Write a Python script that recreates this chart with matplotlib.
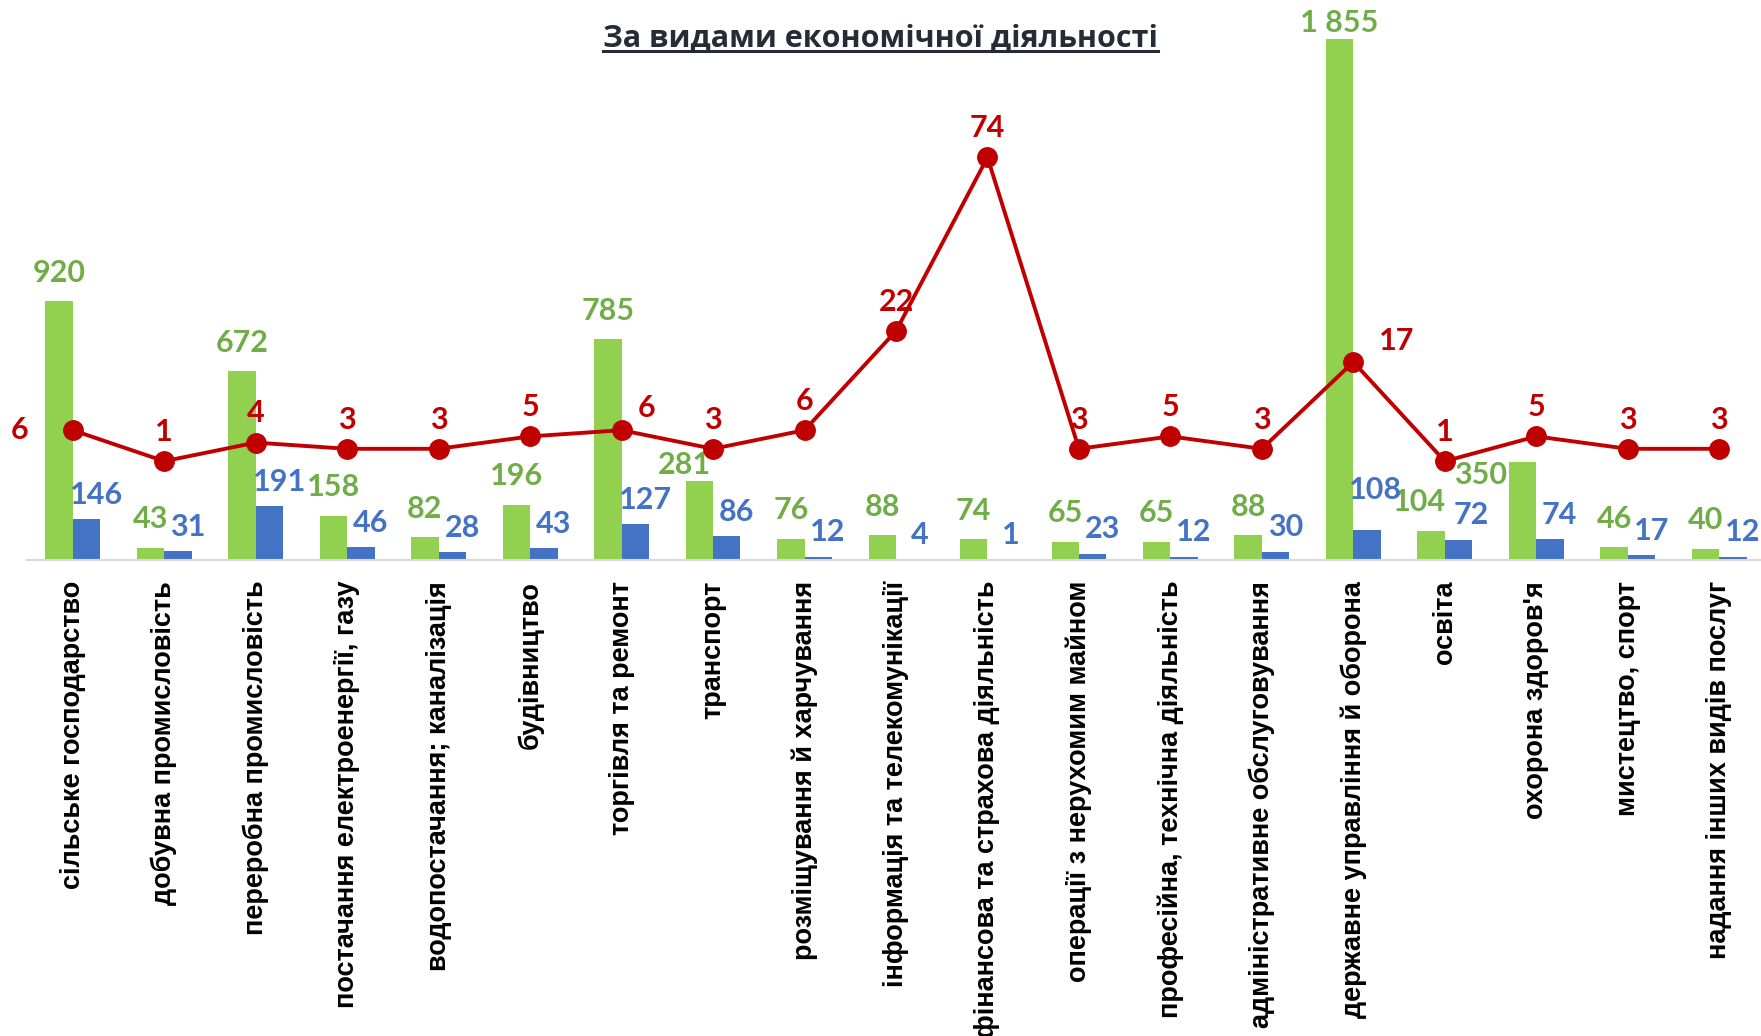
"""
Bar + line chart by kind of economic activity (green/blue bars, red line on a twin axis).
"""

import numpy as np
import matplotlib
matplotlib.use("Agg")
import matplotlib.pyplot as plt
from matplotlib.lines import Line2D


TITLE = "За видами економічної діяльності"

categories = [
    "сільське господарство",
    "добувна промисловість",
    "переробна промисловість",
    "постачання електроенергії, газу",
    "водопостачання; каналізація",
    "будівництво",
    "торгівля та ремонт",
    "транспорт",
    "розміщування й харчування",
    "інформація та телекомунікації",
    "фінансова та страхова діяльність",
    "операції з нерухомим майном",
    "професійна, технічна діяльність",
    "адміністративне обслуговування",
    "державне управління й оборона",
    "освіта",
    "охорона здоров'я",
    "мистецтво, спорт",
    "надання інших видів послуг",
]
green_vals = [920, 43, 672, 158, 82, 196, 785, 281, 76, 88, 74, 65, 65, 88, 1855, 104, 350, 46, 40]
blue_vals = [146, 31, 191, 46, 28, 43, 127, 86, 12, 4, 1, 23, 12, 30, 108, 72, 74, 17, 12]
line_labels = [6, 1, 4, 3, 3, 5, 6, 3, 6, 22, 74, 3, 5, 3, 17, 1, 5, 3, 3]
# the "74" point sits lower in the original than its label says (~50 on the axis)
line_vals = [6, 1, 4, 3, 3, 5, 6, 3, 6, 22, 50, 3, 5, 3, 17, 1, 5, 3, 3]

GREEN = "#92D050"
GREEN_TXT = "#70AD47"
BLUE = "#4472C4"
RED = "#C00000"
NUM_FONT = ["Lato", "DejaVu Sans"]
NUM_SIZE = 22

# label offsets (points) that differ from the default placement
RED_OFFSETS = {0: (-38, 0), 6: (18, 16), 14: (31, 15)}
GREEN_OFFSETS = {7: (-11, 5), 14: (0, 5), 15: (-8, 14), 16: (-30, -16)}
BLUE_OFFSETS = {14: (6, 22), 15: (9, 11)}


def fmt(v):
    return f"{v:,}".replace(",", " ")


W, H = 1761, 1036
fig = plt.figure(figsize=(W / 100, H / 100), dpi=100)
base_y, top_y = 560, 30
ax = fig.add_axes([27 / W, (H - base_y) / H, 1738 / W, (base_y - top_y) / H])
x = np.arange(len(categories))

ax.bar(x - 0.15, green_vals, 0.3, color=GREEN, zorder=2)
ax.bar(x + 0.15, blue_vals, 0.3, color=BLUE, zorder=2)
ax.set_xlim(-0.5, len(categories) - 0.5)
ax.set_ylim(0, (base_y - top_y) / 0.281)

for s in ["top", "left", "right"]:
    ax.spines[s].set_visible(False)
ax.spines["bottom"].set_color("#D9D9D9")
ax.spines["bottom"].set_linewidth(1.5)
ax.set_yticks([])
ax.set_xticks(x, categories, rotation=90, fontsize=19.5, fontweight="bold",
              family=["Liberation Sans", "DejaVu Sans"])
ax.tick_params(axis="x", length=0, pad=15)

for i, v in enumerate(green_vals):
    dx, dy = GREEN_OFFSETS.get(i, (0, 14))
    ax.annotate(fmt(v), (x[i] - 0.15, v), xytext=(dx, dy), textcoords="offset points",
                ha="center", va="baseline", fontsize=NUM_SIZE, fontweight="bold",
                color=GREEN_TXT, family=NUM_FONT, zorder=5)
for i, v in enumerate(blue_vals):
    dx, dy = BLUE_OFFSETS.get(i, (7, 11))
    ax.annotate(fmt(v), (x[i] + 0.15, v), xytext=(dx, dy), textcoords="offset points",
                ha="center", va="baseline", fontsize=NUM_SIZE, fontweight="bold",
                color=BLUE, family=NUM_FONT, zorder=5)

# red line on its own scale
ax2 = ax.twinx()
zero_px, px_per_unit = 467.4, 6.2
ax2.set_ylim(-(base_y - zero_px) / px_per_unit, (zero_px - top_y) / px_per_unit)
ax2.plot(x, line_vals, color=RED, lw=2.8, marker="o", ms=14, zorder=3)
ax2.axis("off")
for i, (v, lab) in enumerate(zip(line_vals, line_labels)):
    dx, dy = RED_OFFSETS.get(i, (0, 21))
    ax2.annotate(str(lab), (x[i], v), xytext=(dx, dy), textcoords="offset points",
                 ha="center", va="center", fontsize=NUM_SIZE, fontweight="bold",
                 color=RED, family=NUM_FONT)

t = fig.text(0.5, 1 - 39 / H, TITLE, ha="center", va="center", fontsize=22,
             fontweight="bold", color="#262B35", family=["Open Sans", "DejaVu Sans"])
fig.canvas.draw()
bb = t.get_window_extent()
uy = (bb.y0 + 3) / H
fig.add_artist(Line2D([bb.x0 / W, bb.x1 / W], [uy, uy], color="#262B35", lw=2.2))

fig.savefig("out.png", dpi=100)
